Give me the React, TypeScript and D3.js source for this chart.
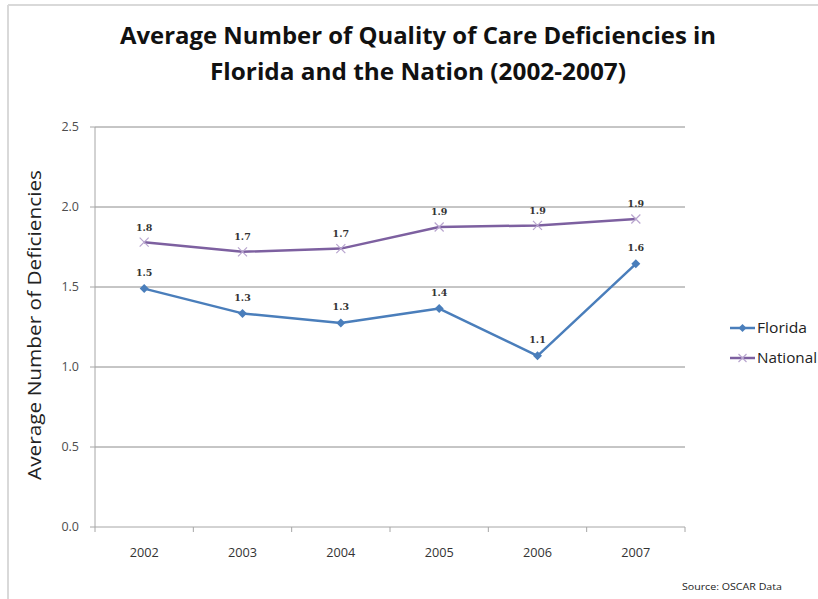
import React from "react";
import * as d3 from "d3";

const years = ["2002", "2003", "2004", "2005", "2006", "2007"];
const florida = [1.49, 1.335, 1.275, 1.365, 1.07, 1.645];
const national = [1.78, 1.72, 1.74, 1.875, 1.885, 1.925];
const floridaLabels = ["1.5", "1.3", "1.3", "1.4", "1.1", "1.6"];
const nationalLabels = ["1.8", "1.7", "1.7", "1.9", "1.9", "1.9"];
const yTicks = [0, 0.5, 1.0, 1.5, 2.0, 2.5];

const W = 818;
const H = 599;
const plot = { left: 95, right: 685, top: 127, bottom: 527 };
const FL_COLOR = "#4A7EBB";
const NA_COLOR = "#7D60A0";
const FONT = "'Open Sans', 'Noto Sans', sans-serif";

export default function App() {
  const x = d3.scaleBand<string>().domain(years).range([plot.left, plot.right]);
  const y = d3.scaleLinear().domain([0, 2.5]).range([plot.bottom, plot.top]);
  const cx = (yr: string) => (x(yr) as number) + x.bandwidth() / 2;
  const line = d3
    .line<number>()
    .x((_, i) => cx(years[i]))
    .y((d) => y(d));

  const diamond = (px: number, py: number, r = 4.5) =>
    `M${px},${py - r}L${px + r},${py}L${px},${py + r}L${px - r},${py}Z`;
  const cross = (px: number, py: number, r = 4.5) =>
    `M${px - r},${py - r}L${px + r},${py + r}M${px - r},${py + r}L${px + r},${py - r}`;

  const boundaries = d3.range(years.length + 1).map((i) => plot.left + i * x.step());

  return (
    <svg
      width={W}
      height={H}
      style={{ position: "absolute", left: 0, top: 0, background: "#fff" }}
    >
      {/* frame */}
      <line x1={8} y1={5} x2={W} y2={5} stroke="#d9d9d9" strokeWidth={2} />
      <line x1={8} y1={5} x2={8} y2={H} stroke="#d9d9d9" strokeWidth={2} />

      {/* title */}
      <text
        x={418}
        y={44}
        textAnchor="middle"
        fontFamily={FONT}
        fontWeight="bold"
        fontSize={23}
        fill="#111"
        textLength={596}
        lengthAdjust="spacingAndGlyphs"
      >
        Average Number of Quality of Care Deficiencies in
      </text>
      <text
        x={418}
        y={80}
        textAnchor="middle"
        fontFamily={FONT}
        fontWeight="bold"
        fontSize={23}
        fill="#111"
        textLength={416}
        lengthAdjust="spacingAndGlyphs"
      >
        Florida and the Nation (2002-2007)
      </text>

      {/* gridlines */}
      {yTicks.filter((t) => t > 0).map((t) => (
        <line key={t} x1={plot.left} x2={plot.right} y1={y(t)} y2={y(t)} stroke="#8c8c8c" strokeWidth={1} />
      ))}

      {/* y axis */}
      <line x1={plot.left} x2={plot.left} y1={plot.top} y2={plot.bottom} stroke="#a6a6a6" strokeWidth={1} />
      {yTicks.map((t) => (
        <g key={t}>
          <line x1={plot.left - 5} x2={plot.left} y1={y(t)} y2={y(t)} stroke="#a6a6a6" />
          <text
            x={79}
            y={y(t)}
            dy="0.35em"
            textAnchor="end"
            fontFamily={FONT}
            fontSize={12.5}
            fill="#4d4d4d"
          >
            {t.toFixed(1)}
          </text>
        </g>
      ))}

      {/* x axis */}
      <line x1={plot.left} x2={plot.right} y1={plot.bottom} y2={plot.bottom} stroke="#a6a6a6" strokeWidth={1} />
      {boundaries.map((bx, i) => (
        <line key={i} x1={bx} x2={bx} y1={plot.bottom} y2={plot.bottom + 5} stroke="#a6a6a6" />
      ))}
      {years.map((yr) => (
        <text
          key={yr}
          x={cx(yr)}
          y={553}
          dy="0.35em"
          textAnchor="middle"
          fontFamily={FONT}
          fontSize={12.5}
          fill="#333"
          textLength={29}
          lengthAdjust="spacingAndGlyphs"
        >
          {yr}
        </text>
      ))}

      {/* y axis title */}
      <text
        transform={`translate(41,325) rotate(-90)`}
        textAnchor="middle"
        fontFamily={FONT}
        fontSize={18}
        fill="#222"
        textLength={310}
        lengthAdjust="spacingAndGlyphs"
      >
        Average Number of Deficiencies
      </text>

      {/* National series */}
      <path d={line(national) || ""} fill="none" stroke={NA_COLOR} strokeWidth={2.5} strokeLinejoin="round" />
      {national.map((v, i) => (
        <path key={i} d={cross(cx(years[i]), y(v))} stroke="#b9a6cf" strokeWidth={1.2} fill="none" />
      ))}
      {national.map((v, i) => (
        <text
          key={i}
          x={cx(years[i])}
          y={y(v) - 15}
          dy="0.35em"
          textAnchor="middle"
          fontFamily="'DejaVu Serif', serif"
          fontWeight="bold"
          fontSize={9.5}
          fill="#333"
        >
          {nationalLabels[i]}
        </text>
      ))}

      {/* Florida series */}
      <path d={line(florida) || ""} fill="none" stroke={FL_COLOR} strokeWidth={2.5} strokeLinejoin="round" />
      {florida.map((v, i) => (
        <path key={i} d={diamond(cx(years[i]), y(v))} fill={FL_COLOR} />
      ))}
      {florida.map((v, i) => (
        <text
          key={i}
          x={cx(years[i])}
          y={y(v) - 16}
          dy="0.35em"
          textAnchor="middle"
          fontFamily="'DejaVu Serif', serif"
          fontWeight="bold"
          fontSize={9.5}
          fill="#333"
        >
          {floridaLabels[i]}
        </text>
      ))}

      {/* legend */}
      <g>
        <line x1={730} x2={755} y1={328} y2={328} stroke={FL_COLOR} strokeWidth={2.5} />
        <path d={diamond(742.5, 328, 4)} fill={FL_COLOR} />
        <text x={757} y={328} dy="0.35em" fontFamily={FONT} fontSize={14.5} fill="#222" textLength={50} lengthAdjust="spacingAndGlyphs">
          Florida
        </text>
        <line x1={730} x2={755} y1={358} y2={358} stroke={NA_COLOR} strokeWidth={2.5} />
        <path d={cross(742.5, 358, 4)} stroke="#b9a6cf" strokeWidth={1.2} fill="none" />
        <text x={757} y={358} dy="0.35em" fontFamily={FONT} fontSize={14.5} fill="#222" textLength={60} lengthAdjust="spacingAndGlyphs">
          National
        </text>
      </g>

      {/* source */}
      <text x={682} y={587} dy="0.35em" fontFamily={FONT} fontSize={9.5} fill="#222" textLength={100} lengthAdjust="spacingAndGlyphs">
        Source: OSCAR Data
      </text>
    </svg>
  );
}
